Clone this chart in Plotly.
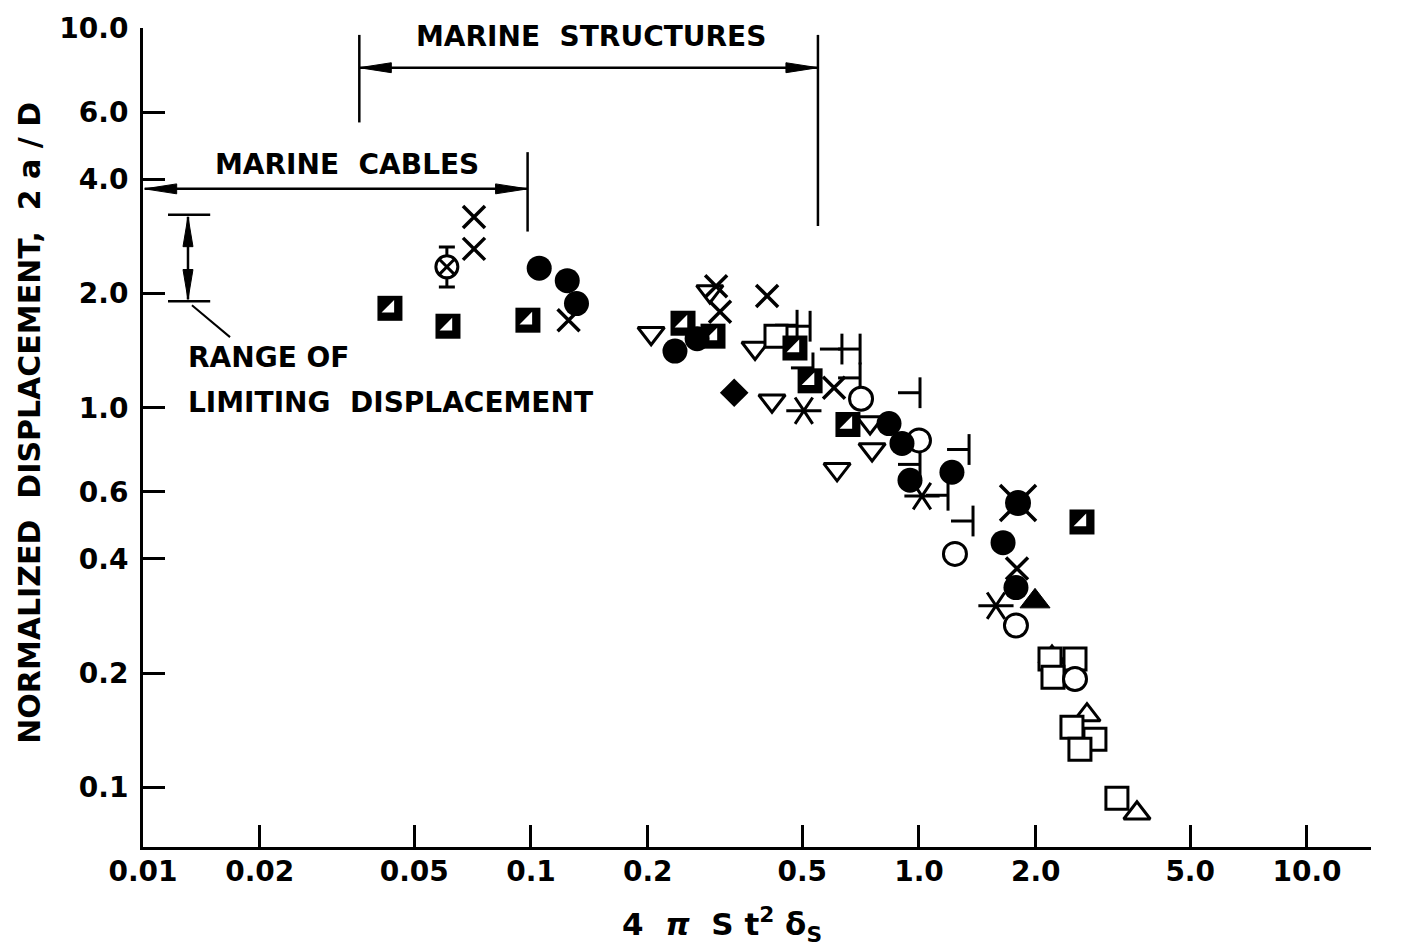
import math
import plotly.graph_objects as go

# ---------------- data ----------------
# filled circles
fc_x = [0.105, 0.124, 0.131, 0.235, 0.268, 0.837, 0.904, 0.948, 1.216, 1.647, 1.778]
fc_y = [2.33, 2.16, 1.88, 1.41, 1.52, 0.908, 0.805, 0.644, 0.676, 0.441, 0.336]
# open circles
oc_x = [0.709, 1.0, 1.238, 1.778, 2.524]
oc_y = [1.056, 0.820, 0.412, 0.267, 0.193]
# crosses
cr_x = [0.0713, 0.0713, 0.125, 0.300, 0.307, 0.406, 0.604, 1.789]
cr_y = [3.18, 2.62, 1.70, 2.09, 1.79, 1.97, 1.128, 0.377]
# open down-triangles
td_x = [0.204, 0.289, 0.378, 0.418, 0.748, 0.757, 0.615]
td_y = [1.571, 2.024, 1.436, 1.043, 0.914, 0.776, 0.688]
# open up-triangles
tu_x = [2.202, 2.710, 3.646]
tu_y = [0.220, 0.155, 0.0855]
# filled up-triangle
tf_x = [1.991]
tf_y = [0.309]
# open squares
os_x = [0.428, 2.176, 2.524, 2.215, 2.479, 2.841, 2.599, 3.237]
os_y = [1.543, 0.218, 0.218, 0.195, 0.144, 0.134, 0.126, 0.0936]
# half-filled squares
hs_x = [0.0433, 0.0611, 0.0982, 0.2465, 0.2945, 0.479, 0.524, 0.656, 2.631]
hs_y = [1.827, 1.639, 1.700, 1.669, 1.543, 1.436, 1.177, 0.903, 0.500]
# filled diamond
dm_x = [0.334]
dm_y = [1.095]
# asterisks
as_x = [0.505, 1.018, 1.579]
as_y = [0.982, 0.585, 0.301]
# "T"-on-side symbols
tk_x = [0.485, 0.524, 0.533, 0.633, 0.705, 0.705, 1.006, 1.006, 1.346, 1.188, 1.378]
tk_y = [1.649, 1.639, 1.273, 1.427, 1.427, 1.198, 1.095, 0.709, 0.776, 0.588, 0.503]
# crossed circle with error bar
cx_x = [0.0607]
cx_y = [2.35]
cx_err_up = [0.30]
cx_err_dn = [0.27]
# filled crossed circle
fx_x = [1.80]
fx_y = [0.561]

# ranges drawn as annotations
structures_range = [0.0361, 0.549]
cables_range = [0.0101, 0.098]
limit_range = [1.906, 3.22]

x_tick_vals = [0.01, 0.02, 0.05, 0.1, 0.2, 0.5, 1, 2, 5, 10]
x_tick_text = ['0.01', '0.02', '0.05', '0.1', '0.2', '0.5', '1.0', '2.0', '5.0', '10.0']
y_tick_vals = [0.1, 0.2, 0.4, 0.6, 1, 2, 4, 6, 10]
y_tick_text = ['0.1', '0.2', '0.4', '0.6', '1.0', '2.0', '4.0', '6.0', '10.0']

# ---------------- figure ----------------
BLK = 'black'
FONT = 'DejaVu Sans'
PX_PER_DEC_X = 388.0
PX_PER_DEC_Y = 382.0
fig = go.Figure()


def add(x, y, symbol, size, fill, lw=3, angle=0):
    fig.add_trace(go.Scatter(
        x=x, y=y, mode='markers', hoverinfo='skip',
        marker=dict(symbol=symbol, size=size, color=fill, angle=angle,
                    line=dict(color=BLK, width=lw))))


# T-on-side symbols: vertical bar + horizontal stroke to the left
fig.add_trace(go.Scatter(
    x=tk_x, y=tk_y, mode='markers', hoverinfo='skip',
    marker=dict(symbol='line-ns-open', size=22, color=BLK, line=dict(color=BLK, width=3)),
    error_x=dict(type='data', symmetric=False, array=[0] * len(tk_x),
                 arrayminus=[v * 0.1225 for v in tk_x], width=0, thickness=3, color=BLK)))

add(td_x, td_y, 'triangle-down', 23, 'white')
add(tu_x, tu_y, 'triangle-up', 23, 'white')
add(os_x, os_y, 'square', 22, 'white')
add(oc_x, oc_y, 'circle', 23, 'white')
add(hs_x, hs_y, 'square', 25, BLK, lw=0)
add(hs_x, hs_y, 'triangle-se', 14, 'white', lw=0)
add(fc_x, fc_y, 'circle', 25, BLK, lw=0)
add(tf_x, tf_y, 'triangle-up', 26, BLK, lw=1)
add(dm_x, dm_y, 'diamond', 22, BLK, lw=0)
add(as_x, as_y, 'y-up-open', 22, BLK, lw=3, angle=90)
add(as_x, as_y, 'y-down-open', 22, BLK, lw=3, angle=90)
add(cr_x, cr_y, 'x-thin-open', 22, BLK, lw=3.5)
add(fx_x, fx_y, 'circle', 26, BLK, lw=0)
add(fx_x, fx_y, 'x-thin-open', 36, BLK, lw=3.5)
fig.add_trace(go.Scatter(
    x=cx_x, y=cx_y, mode='markers', hoverinfo='skip',
    marker=dict(symbol='circle-x', size=22, color='white', line=dict(color=BLK, width=3)),
    error_y=dict(type='data', symmetric=False, array=cx_err_up, arrayminus=cx_err_dn,
                 width=8, thickness=3, color=BLK)))


def sx(v, dpx):
    """shift a value on the log x axis by dpx screen pixels"""
    return v * 10 ** (dpx / PX_PER_DEC_X)


def sy(v, dpx):
    """shift a value on the log y axis by dpx screen pixels (up positive)"""
    return v * 10 ** (dpx / PX_PER_DEC_Y)


shapes = []


def seg(x0, y0, x1, y1, w=2.5):
    shapes.append(dict(type='line', x0=x0, x1=x1, y0=y0, y1=y1, xref='x', yref='y',
                       line=dict(color=BLK, width=w)))


def head(pts):
    path = 'M ' + ' L '.join('%.6g,%.6g' % p for p in pts) + ' Z'
    shapes.append(dict(type='path', path=path, xref='x', yref='y', fillcolor=BLK,
                       line=dict(color=BLK, width=1)))


def harrow(xa, xb, y, hl=32, hw=5):
    seg(xa, y, xb, y)
    head([(xa, y), (sx(xa, hl), sy(y, hw)), (sx(xa, hl), sy(y, -hw))])
    head([(xb, y), (sx(xb, -hl), sy(y, hw)), (sx(xb, -hl), sy(y, -hw))])


def varrow(x, ya, yb, hl=30, hw=5):
    seg(x, ya, x, yb)
    head([(x, ya), (sx(x, hw), sy(ya, hl)), (sx(x, -hw), sy(ya, hl))])
    head([(x, yb), (sx(x, hw), sy(yb, -hl)), (sx(x, -hw), sy(yb, -hl))])


# marine structures bracket
seg(structures_range[0], 5.64, structures_range[0], 9.59)
seg(structures_range[1], 3.01, structures_range[1], 9.59)
harrow(structures_range[0], structures_range[1], 7.86)
# marine cables
seg(cables_range[1], 2.91, cables_range[1], 4.71)
harrow(cables_range[0], cables_range[1], 3.77)
# range of limiting displacement
seg(0.0116, limit_range[1], 0.0149, limit_range[1])
seg(0.0116, limit_range[0], 0.0149, limit_range[0])
varrow(0.01306, sy(limit_range[0], 2), sy(limit_range[1], -2))
seg(0.01337, 1.861, 0.01676, 1.534, w=2)
fig.update_layout(shapes=shapes)

ann = []


def label(text, x, y, size=28, xanchor='center'):
    ann.append(dict(text=text, x=x, y=y, xref='x', yref='y', showarrow=False,
                    xanchor=xanchor, yanchor='middle',
                    font=dict(family=FONT, size=size, color=BLK, weight='bold')))


label('MARINE  STRUCTURES', -0.8454, 0.9764, size=28)
label('MARINE  CABLES', -1.474, 0.6414, size=28)
label('RANGE OF', -1.889, 0.1309, size=28, xanchor='left')
label('LIMITING  DISPLACEMENT', -1.889, 0.0131, size=28, xanchor='left')

ann.append(dict(text='NORMALIZED  DISPLACEMENT,  2 a / D', xref='paper', yref='paper',
                x=-0.092, y=0.518, textangle=-90, showarrow=False,
                xanchor='center', yanchor='middle',
                font=dict(family=FONT, size=30, color=BLK, weight='bold')))
ann.append(dict(text='4  <i>π</i>  S t<sup>2</sup> δ<sub>S</sub>', xref='paper', yref='paper',
                x=0.4715, y=-0.0947, showarrow=False, xanchor='center', yanchor='middle',
                font=dict(family=FONT, size=31, color=BLK, weight='bold')))
fig.update_layout(annotations=ann)

axis_common = dict(type='log', tickmode='array', ticks='inside', ticklen=22, tickwidth=2.5,
                   tickcolor=BLK, showline=True, linewidth=3, linecolor=BLK,
                   showgrid=False, zeroline=False, mirror=False,
                   tickfont=dict(family=FONT, size=28, color=BLK, weight='bold'))
fig.update_xaxes(range=[-2, 1.165], tickvals=x_tick_vals, ticktext=x_tick_text,
                 ticklabelstandoff=-3, **axis_common)
fig.update_yaxes(range=[-1.157, 1.0], tickvals=y_tick_vals, ticktext=y_tick_text,
                 ticklabelstandoff=6, **axis_common)

fig.update_layout(width=1410, height=946, margin=dict(l=143, r=39, t=23, b=99),
                  plot_bgcolor='white', paper_bgcolor='white', showlegend=False,
                  font=dict(family=FONT, size=28, color=BLK))

fig.write_html("out.html", config={'displayModeBar': False},
               post_script="document.body.style.margin='0';")
